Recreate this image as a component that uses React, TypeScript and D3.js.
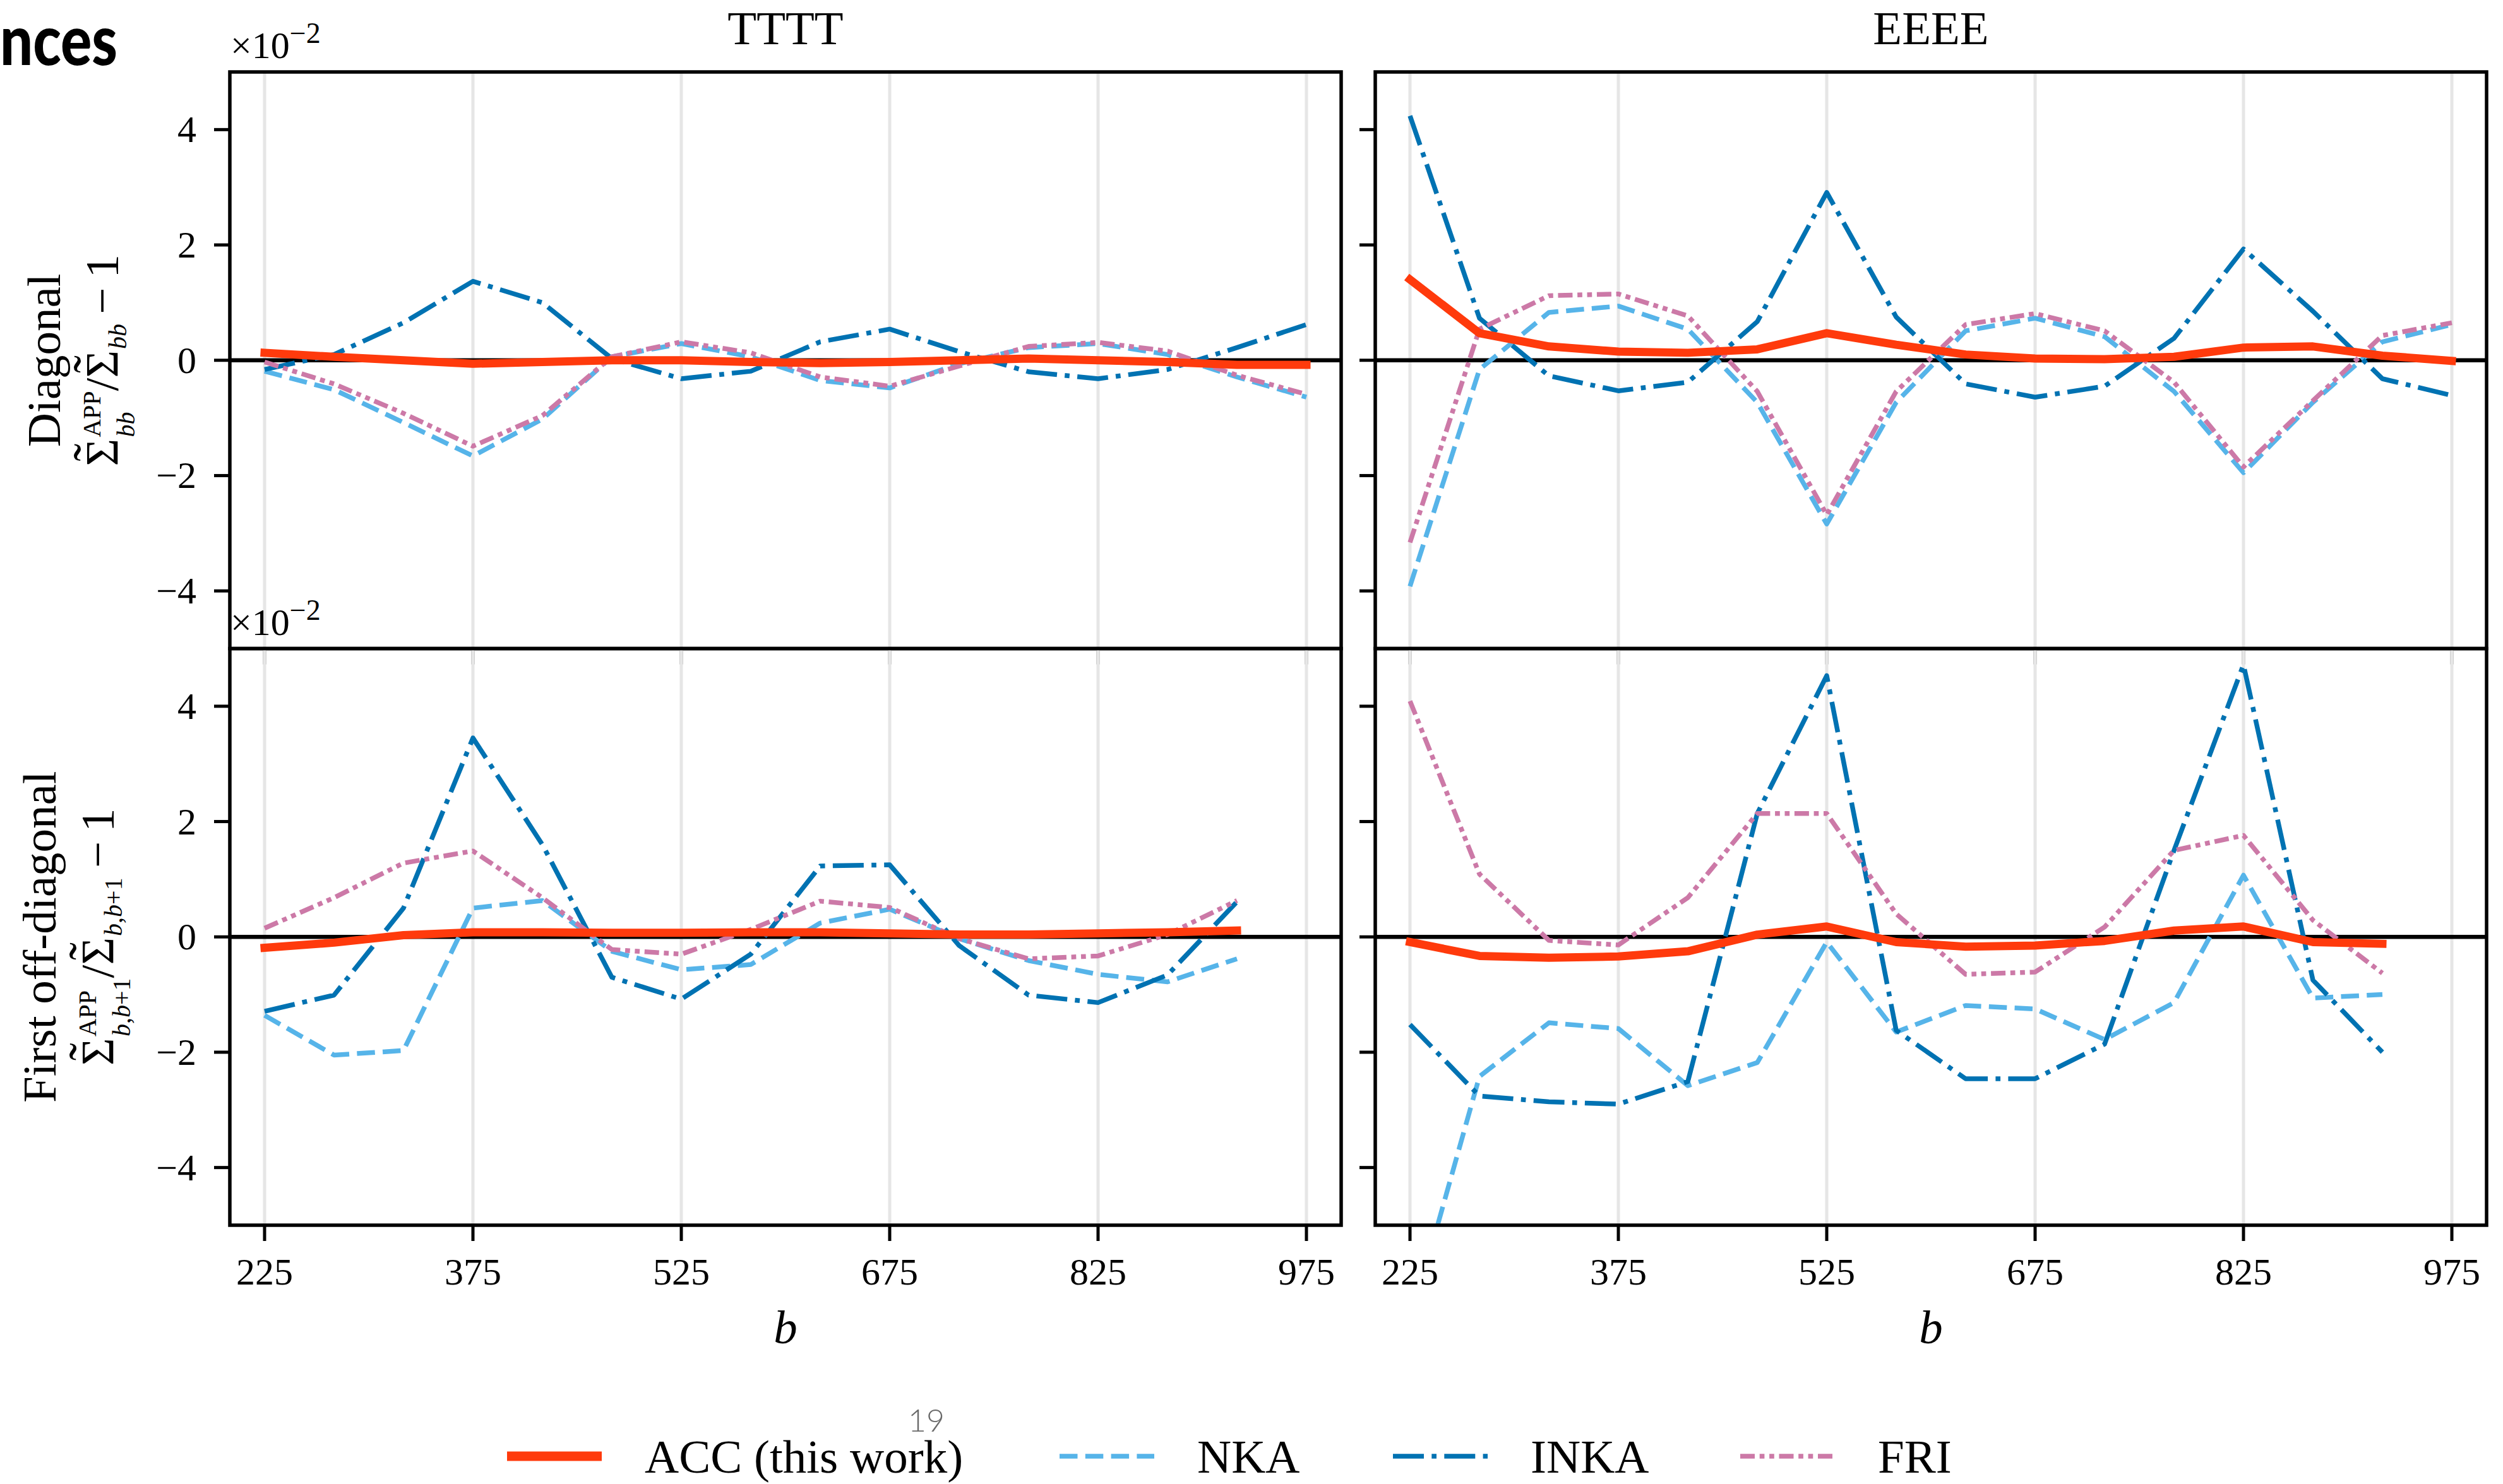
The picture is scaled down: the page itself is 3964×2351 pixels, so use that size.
import React from 'react';
import * as d3 from 'd3';

// ---------- data ----------
// bin centres b
const binsDiag = [225, 275, 325, 375, 425, 475, 525, 575, 625, 675, 725, 775, 825, 875, 925, 975];
const binsOffDiag = [225, 275, 325, 375, 425, 475, 525, 575, 625, 675, 725, 775, 825, 875, 925];

const xTickValues = [225, 375, 525, 675, 825, 975];
const yTickValues = [-4, -2, 0, 2, 4];

const spectra = ['TTTT', 'EEEE'];
const rowNames = ['Diagonal', 'First off-diagonal'];
const methods = ['ACC (this work)', 'NKA', 'INKA', 'FRI'];

// relative deviation, in units of 1e-2
const accTTDiag = [0.13, 0.06, 0.0, -0.06, -0.03, 0.0, 0.0, -0.03, -0.05, -0.03, 0.0, 0.03, 0.0, -0.03, -0.08, -0.08];
const nkaTTDiag = [-0.19, -0.51, -1.08, -1.66, -1.02, 0.06, 0.29, 0.06, -0.35, -0.48, -0.06, 0.22, 0.29, 0.1, -0.29, -0.64];
const inkaTTDiag = [-0.16, 0.1, 0.65, 1.37, 1.0, 0.03, -0.32, -0.19, 0.32, 0.54, 0.15, -0.2, -0.32, -0.16, 0.22, 0.62];
const friTTDiag = [-0.03, -0.41, -0.92, -1.49, -0.96, 0.06, 0.32, 0.13, -0.29, -0.45, -0.1, 0.24, 0.31, 0.16, -0.26, -0.59];

const accTTOff = [-0.19, -0.1, 0.03, 0.08, 0.08, 0.07, 0.07, 0.08, 0.08, 0.06, 0.04, 0.04, 0.06, 0.08, 0.11];
const nkaTTOff = [-1.36, -2.05, -1.97, 0.5, 0.63, -0.25, -0.57, -0.48, 0.24, 0.48, -0.03, -0.41, -0.65, -0.78, -0.38];
const inkaTTOff = [-1.29, -1.01, 0.5, 3.45, 1.6, -0.7, -1.08, -0.3, 1.23, 1.25, -0.15, -1.01, -1.14, -0.66, 0.61];
const friTTOff = [0.15, 0.68, 1.28, 1.49, 0.68, -0.22, -0.3, 0.13, 0.62, 0.51, -0.03, -0.38, -0.33, 0.04, 0.63];

const accEEDiag = [1.4, 0.47, 0.24, 0.15, 0.13, 0.19, 0.47, 0.27, 0.1, 0.03, 0.02, 0.06, 0.22, 0.24, 0.08, -0.01];
const nkaEEDiag = [-3.92, -0.16, 0.83, 0.94, 0.54, -0.73, -2.84, -0.73, 0.51, 0.73, 0.41, -0.54, -1.95, -0.73, 0.32, 0.62];
const inkaEEDiag = [4.24, 0.73, -0.27, -0.53, -0.38, 0.67, 2.91, 0.75, -0.41, -0.64, -0.45, 0.38, 1.93, 0.85, -0.32, -0.61];
const friEEDiag = [-3.16, 0.54, 1.12, 1.15, 0.77, -0.54, -2.68, -0.54, 0.62, 0.81, 0.51, -0.38, -1.85, -0.7, 0.43, 0.65];

const accEEOff = [-0.09, -0.33, -0.36, -0.34, -0.25, 0.04, 0.18, -0.09, -0.17, -0.15, -0.07, 0.11, 0.18, -0.09, -0.12];
const nkaEEOff = [-6.7, -2.42, -1.49, -1.59, -2.58, -2.18, -0.09, -1.65, -1.19, -1.25, -1.78, -1.14, 1.07, -1.06, -1.0];
const inkaEEOff = [-1.52, -2.76, -2.86, -2.9, -2.51, 2.14, 4.53, -1.62, -2.46, -2.46, -1.86, 1.5, 4.72, -0.75, -2.0];
const friEEOff = [4.09, 1.09, -0.06, -0.14, 0.68, 2.14, 2.14, 0.4, -0.65, -0.61, 0.17, 1.5, 1.76, 0.29, -0.63];

// panels[row][col] -> values per method (same order as `methods`)
const panels = [
  [
    { bins: binsDiag, values: [accTTDiag, nkaTTDiag, inkaTTDiag, friTTDiag] },
    { bins: binsDiag, values: [accEEDiag, nkaEEDiag, inkaEEDiag, friEEDiag] },
  ],
  [
    { bins: binsOffDiag, values: [accTTOff, nkaTTOff, inkaTTOff, friTTOff] },
    { bins: binsOffDiag, values: [accEEOff, nkaEEOff, inkaEEOff, friEEOff] },
  ],
];

// ---------- styling ----------
const W = 3964;
const H = 2351;
const SERIF = '"Liberation Serif", "Times New Roman", Times, serif';
const colX = [364, 2178];
const rowY = [114, 1027.5];
const PANEL_W = 1760;
const PANEL_H = 913.5;

const methodStyle = [
  { color: '#ff3a0c', width: 13, dash: undefined as string | undefined, cap: 'square' },
  { color: '#56b4e9', width: 7.5, dash: '28.5 12.3', cap: 'butt' },
  { color: '#0072b2', width: 7.5, dash: '49 12.3 7.7 12.3', cap: 'butt' },
  { color: '#cc79a7', width: 7.5, dash: '23 7.7 7.7 7.7 7.7 7.7', cap: 'butt' },
];
// draw order: baselines first, ACC on top
const drawOrder = [1, 2, 3, 0];

const legendX = [803, 1678, 2206, 2756];

function fmtTick(v: number) {
  return v < 0 ? `\u2212${Math.abs(v)}` : `${v}`;
}

function Panel({ row, col }: { row: number; col: number }) {
  const x0 = colX[col];
  const y0 = rowY[row];
  const x = d3.scaleLinear().domain([200, 1000]).range([x0, x0 + PANEL_W]);
  const y = d3.scaleLinear().domain([-5, 5]).range([y0 + PANEL_H, y0]);
  const { bins, values } = panels[row][col];
  const line = d3
    .line<number>()
    .x((_, i) => x(bins[i]))
    .y((d) => y(d));
  const clipId = `clip-${row}-${col}`;
  const isBottom = row === 1;
  return (
    <g>
      <defs>
        <clipPath id={clipId}>
          <rect x={x0} y={y0} width={PANEL_W} height={PANEL_H} />
        </clipPath>
      </defs>
      {xTickValues.map((t) => (
        <line key={`g${t}`} x1={x(t)} x2={x(t)} y1={y0} y2={y0 + PANEL_H} stroke="#e6e6e6" strokeWidth={5} />
      ))}
      <line x1={x0} x2={x0 + PANEL_W} y1={y(0)} y2={y(0)} stroke="#000" strokeWidth={6.5} />
      <g clipPath={`url(#${clipId})`}>
        {drawOrder.map((m) => {
          const s = methodStyle[m];
          return (
            <path
              key={m}
              d={line(values[m]) || ''}
              fill="none"
              stroke={s.color}
              strokeWidth={s.width}
              strokeDasharray={s.dash}
              strokeLinecap={s.cap as any}
              strokeLinejoin="round"
            />
          );
        })}
      </g>
      <rect x={x0} y={y0} width={PANEL_W} height={PANEL_H} fill="none" stroke="#000" strokeWidth={5.5} />
      {/* y ticks */}
      {yTickValues.map((t) => (
        <g key={`y${t}`}>
          <line x1={x0 - 25} x2={x0} y1={y(t)} y2={y(t)} stroke="#000" strokeWidth={5} />
          {col === 0 && (
            <text
              x={311}
              y={y(t)}
              dominantBaseline="central"
              textAnchor="end"
              fontFamily={SERIF}
              fontSize={60}
            >
              {fmtTick(t)}
            </text>
          )}
        </g>
      ))}
      {/* x ticks */}
      {xTickValues.map((t) => (
        <g key={`x${t}`}>
          <line
            x1={x(t)}
            x2={x(t)}
            y1={y0 + PANEL_H}
            y2={y0 + PANEL_H + 25}
            stroke={isBottom ? '#000' : '#6e6e6e'}
            strokeWidth={5}
          />
          {isBottom && (
            <text x={x(t)} y={2035} textAnchor="middle" fontFamily={SERIF} fontSize={60}>
              {t}
            </text>
          )}
        </g>
      ))}
      {col === 0 && (
        <text x={365} y={y0 - 22} fontFamily={SERIF} fontSize={60}>
          ×10
          <tspan fontSize={46} dy={-24}>
            −2
          </tspan>
        </text>
      )}
      {row === 0 && (
        <text x={x0 + PANEL_W / 2} y={70} textAnchor="middle" fontFamily={SERIF} fontSize={75}>
          {spectra[col]}
        </text>
      )}
      {isBottom && (
        <text x={x0 + PANEL_W / 2} y={2128} textAnchor="middle" fontFamily={SERIF} fontSize={75} fontStyle="italic">
          b
        </text>
      )}
    </g>
  );
}

function SubIndex({ offDiag }: { offDiag: boolean }) {
  if (!offDiag) return <tspan fontStyle="italic">bb</tspan>;
  return (
    <>
      <tspan fontStyle="italic">b</tspan>
      <tspan>,</tspan>
      <tspan fontStyle="italic">b</tspan>
      <tspan>+1</tspan>
    </>
  );
}

// advance widths used to stack scripts and centre the tilde accent
const SIGMA_W = 44;
const TILDE_W = 28;
const TILDE_RISE = 13;

function YLabel({ row }: { row: number }) {
  const cy = rowY[row] + PANEL_H / 2;
  const offDiag = row === 1;
  const nameX = row === 0 ? 95 : 88;
  const mathX = row === 0 ? 187 : 180;
  const supW = 73;
  const subW = offDiag ? 93 : 40;
  const back = -(SIGMA_W / 2 + TILDE_W / 2);
  const fwd = SIGMA_W / 2 - TILDE_W / 2;
  return (
    <g fontFamily={SERIF}>
      <text transform={`translate(${nameX},${cy}) rotate(-90)`} textAnchor="middle" fontSize={75}>
        {rowNames[row]}
      </text>
      <text transform={`translate(${mathX},${cy}) rotate(-90)`} textAnchor="middle" fontSize={75}>
        <tspan>Σ</tspan>
        <tspan fontSize={84} dx={back} dy={-TILDE_RISE}>
          ˜
        </tspan>
        <tspan fontSize={40} dx={fwd + 2} dy={TILDE_RISE - 28}>
          APP
        </tspan>
        <tspan fontSize={40} dx={-supW} dy={54}>
          <SubIndex offDiag={offDiag} />
        </tspan>
        <tspan dx={Math.max(0, supW - subW)} dy={-26}>
          /Σ
        </tspan>
        <tspan fontSize={84} dx={back} dy={-TILDE_RISE}>
          ˜
        </tspan>
        <tspan fontSize={40} dx={fwd + 2} dy={TILDE_RISE + 13}>
          <SubIndex offDiag={offDiag} />
        </tspan>
        <tspan dy={-13}>{'\u2009\u2212\u20091'}</tspan>
      </text>
    </g>
  );
}

function Legend() {
  const cy = 2307;
  return (
    <g>
      {methods.map((name, i) => {
        const s = methodStyle[i];
        const lx = legendX[i];
        return (
          <g key={name}>
            <line
              x1={lx}
              x2={lx + 150}
              y1={cy}
              y2={cy}
              stroke={s.color}
              strokeWidth={i === 0 ? 15 : s.width}
              strokeDasharray={s.dash}
            />
            <text x={lx + 218} y={2333} fontFamily={SERIF} fontSize={75}>
              {name}
            </text>
          </g>
        );
      })}
    </g>
  );
}

export default function App() {
  return (
    <svg
      width={W}
      height={H}
      viewBox={`0 0 ${W} ${H}`}
      style={{ position: 'absolute', left: 0, top: 0, background: '#fff' }}
    >
      <rect x={0} y={0} width={W} height={H} fill="#fff" />
      <text
        x={0}
        y={103}
        fontFamily="Lato, 'Open Sans', sans-serif"
        fontWeight={900}
        fontSize={110}
        textLength={186}
        lengthAdjust="spacingAndGlyphs"
      >
        nces
      </text>
      {[0, 1].map((r) => [0, 1].map((c) => <Panel key={`${r}-${c}`} row={r} col={c} />))}
      <YLabel row={0} />
      <YLabel row={1} />
      <text x={1467} y={2268} textAnchor="middle" fontFamily="Lato, sans-serif" fontWeight={300} fontSize={50} fill="#6a6a6a">
        19
      </text>
      <Legend />
    </svg>
  );
}
